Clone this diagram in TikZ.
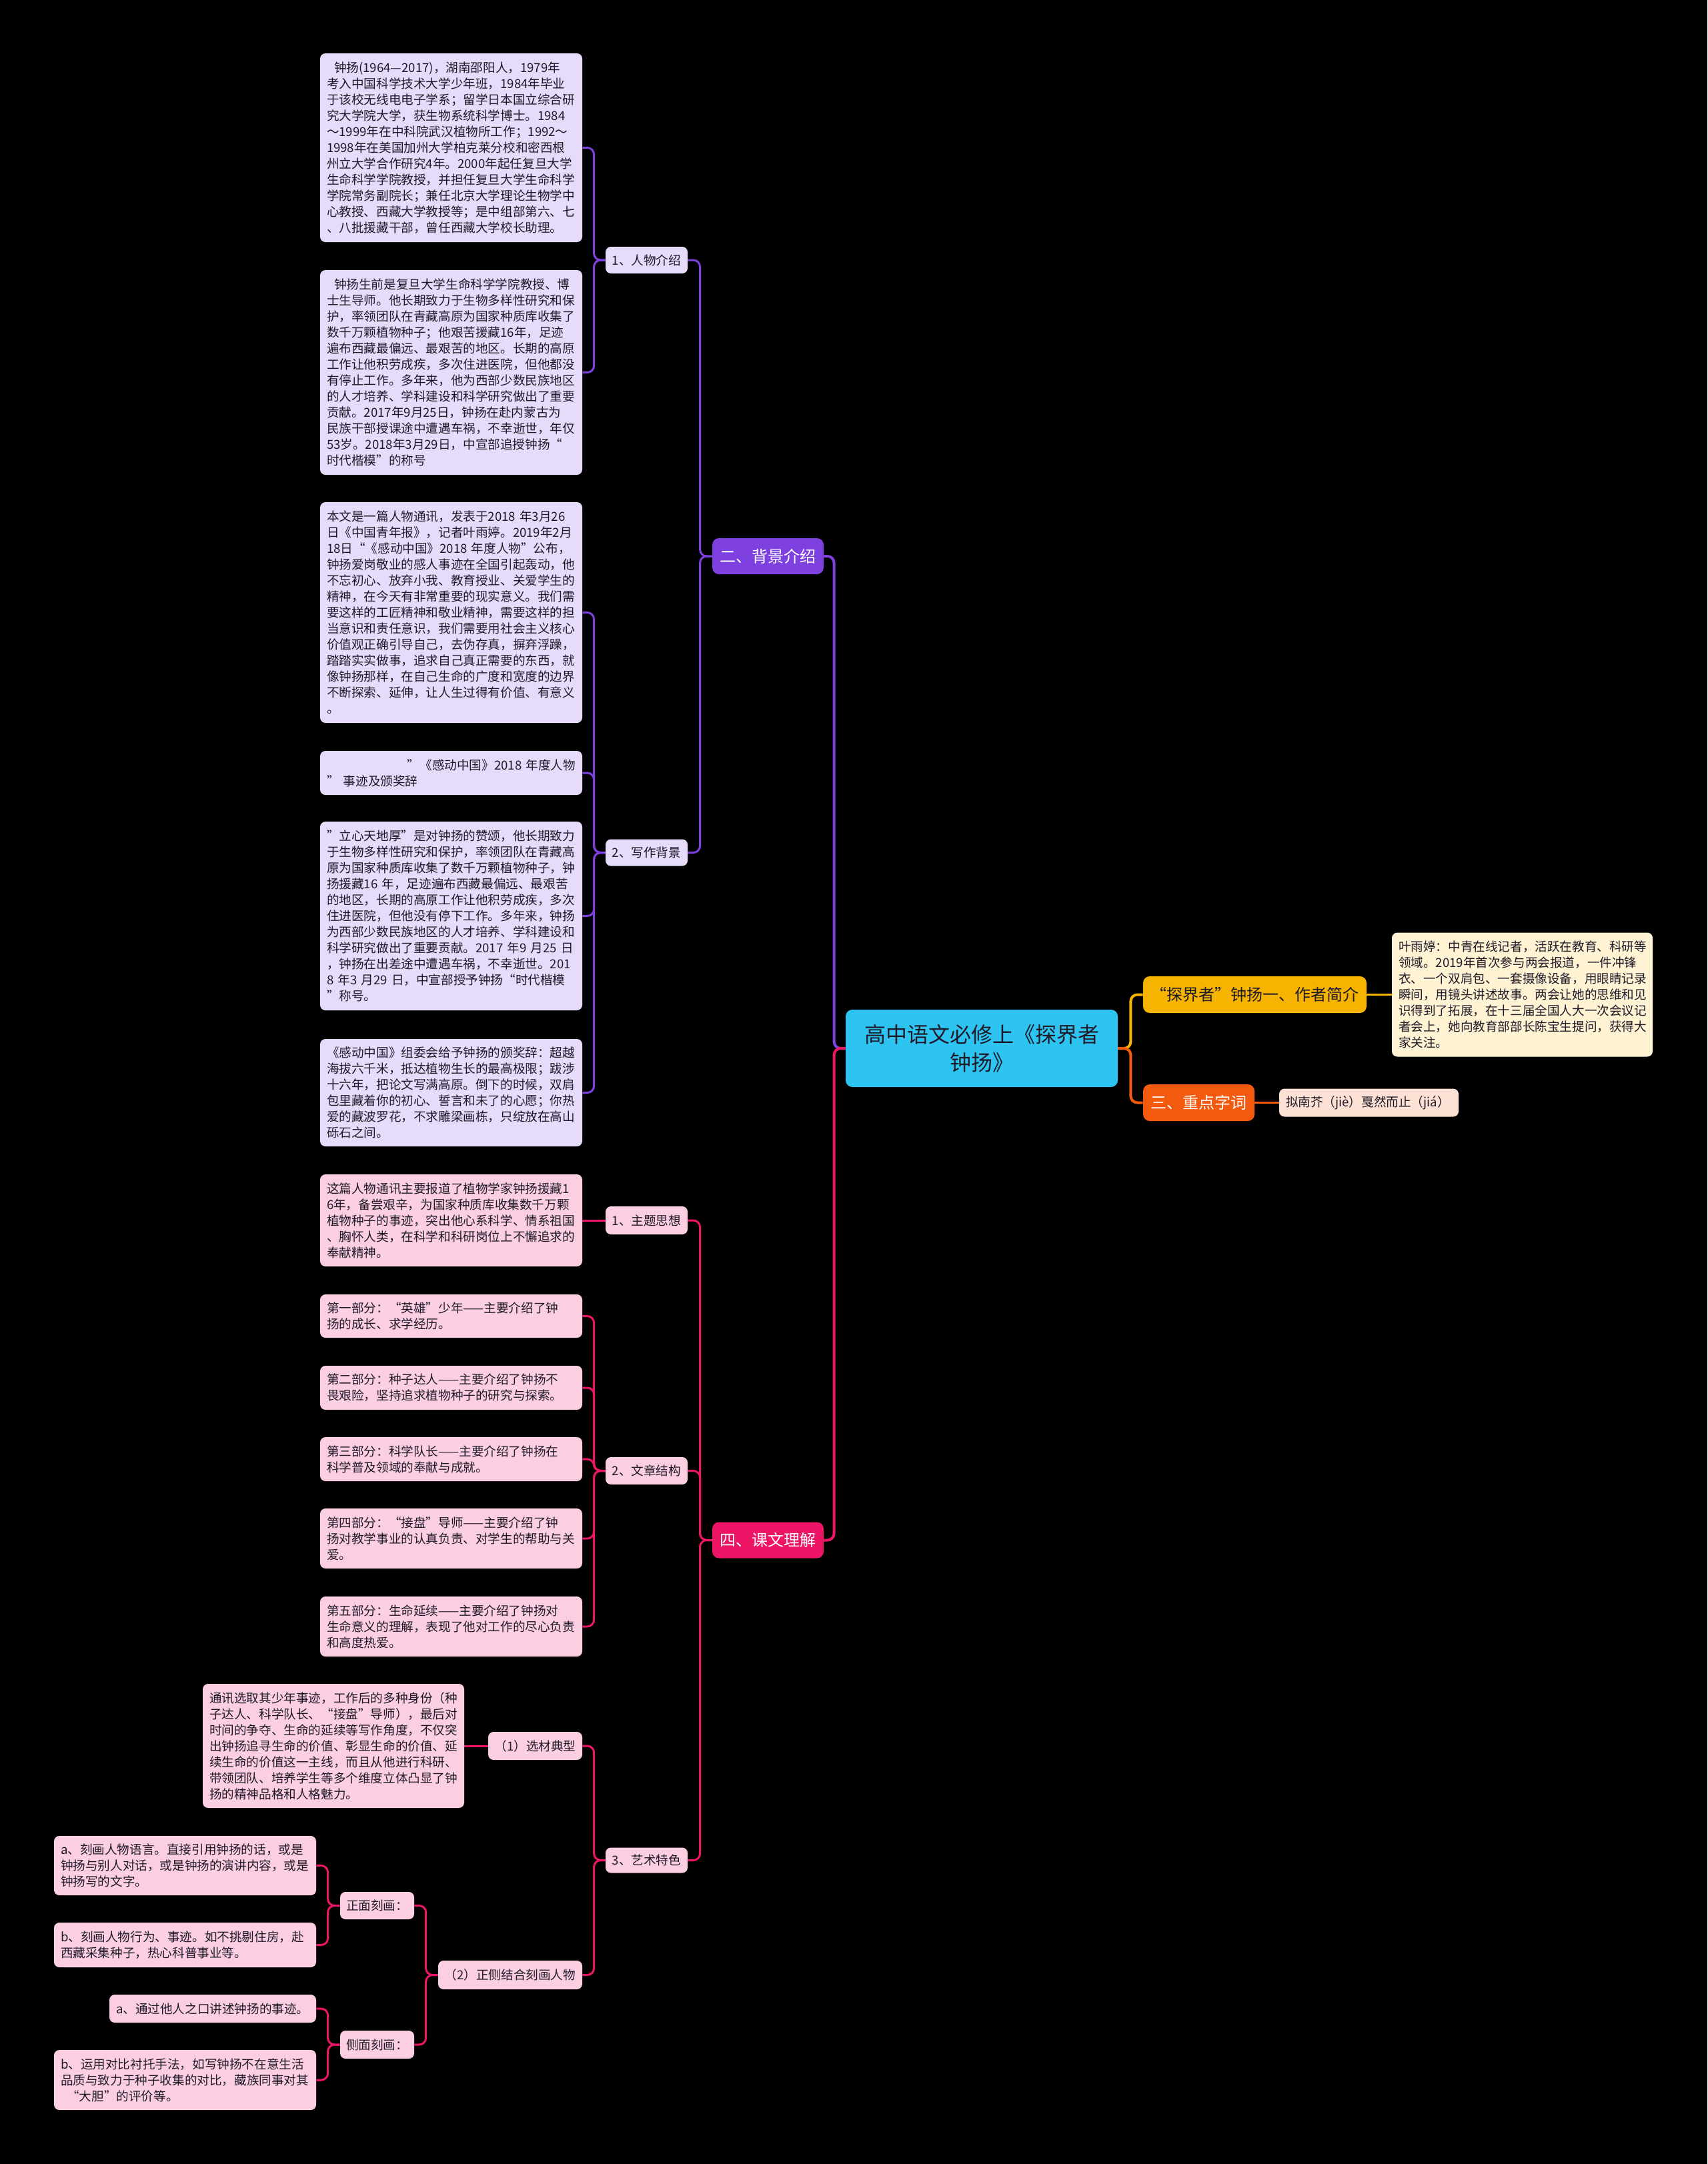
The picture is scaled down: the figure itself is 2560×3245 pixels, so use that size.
\documentclass[tikz,border=0pt]{standalone}
\usepackage{fontspec}
\setmainfont{Noto Sans CJK SC}
\usepackage{tikz}
\usetikzlibrary{backgrounds}
\usepackage{xcolor}
\definecolor{purp}{HTML}{7F40E0}
\definecolor{rose}{HTML}{EE1567}
\definecolor{sky}{HTML}{2EC4F2}
\definecolor{gold}{HTML}{F6B400}
\definecolor{flame}{HTML}{F45A0D}
\definecolor{lav}{HTML}{E6DBFA}
\definecolor{blush}{HTML}{FCCEE2}
\definecolor{cream}{HTML}{FFF3D3}
\definecolor{peach}{HTML}{FCE1D4}
\definecolor{ink}{HTML}{1E1A28}

\begin{document}
\begin{tikzpicture}[x=0.5pt,y=-0.5pt,line cap=round,font=\fontsize{9.3}{12}\selectfont,
  tb/.style 2 args={rounded corners=4pt,inner xsep=5pt,inner ysep=0pt,align=left,text=ink,text width={(#1-20)*0.5pt},minimum height={#2*0.5pt}},
  lb/.style 2 args={rounded corners=4pt,inner sep=0pt,align=center,text=ink,minimum width={#1*0.5pt},minimum height={#2*0.5pt}},
  br/.style={rounded corners=5pt,text=white,font=\fontsize{12}{14}\selectfont},
  link/.style={line width=1.5pt,rounded corners=5pt}]
\useasboundingbox (0,0) rectangle (2560,3245);

\node[lb={408}{116},fill=sky,rounded corners=5pt,font=\fontsize{16}{21}\selectfont] (root) at (1472,1572) {高中语文必修上《探界者\\钟扬》};

\node[lb={167}{54},br,fill=purp] (bg) at (1151.5,834) {二、背景介绍};
\node[lb={167}{54},br,fill=rose] (kw) at (1151.5,2309.5) {四、课文理解};
\node[lb={335}{55},br,fill=gold,text=ink] (author) at (1881.5,1491.5) {“探界者”钟扬一、作者简介};
\node[lb={167}{55},br,fill=flame] (words) at (1797.5,1653.5) {三、重点字词};

\node[tb={391}{186},fill=cream] (pH1) at (2282.5,1491.5) {叶雨婷：中青在线记者，活跃在教育、科研等\\领域。2019年首次参与两会报道，一件冲锋\\衣、一个双肩包、一套摄像设备，用眼睛记录\\瞬间，用镜头讲述故事。两会让她的思维和见\\识得到了拓展，在十三届全国人大一次会议记\\者会上，她向教育部部长陈宝生提问，获得大\\家关注。};
\node[tb={269}{42},fill=peach] (pH2) at (2052.5,1653.5) {拟南芥（jiè）戛然而止（jiá）};

\node[lb={123}{40},fill=lav] (intro) at (969.5,390) {1、人物介绍};
\node[lb={123}{40},fill=lav] (writ) at (969.5,1278.5) {2、写作背景};

\node[tb={393}{283},fill=lav] (pA1) at (676.5,221.5) {\hspace*{0.6em}钟扬(1964—2017)，湖南邵阳人，1979年\\考入中国科学技术大学少年班，1984年毕业\\于该校无线电电子学系；留学日本国立综合研\\究大学院大学，获生物系统科学博士。1984\\～1999年在中科院武汉植物所工作；1992～\\1998年在美国加州大学柏克莱分校和密西根\\州立大学合作研究4年。2000年起任复旦大学\\生命科学学院教授，并担任复旦大学生命科学\\学院常务副院长；兼任北京大学理论生物学中\\心教授、西藏大学教授等；是中组部第六、七\\、八批援藏干部，曾任西藏大学校长助理。};
\node[tb={393}{307},fill=lav] (pA2) at (676.5,558.5) {\hspace*{0.6em}钟扬生前是复旦大学生命科学学院教授、博\\士生导师。他长期致力于生物多样性研究和保\\护，率领团队在青藏高原为国家种质库收集了\\数千万颗植物种子；他艰苦援藏16年，足迹\\遍布西藏最偏远、最艰苦的地区。长期的高原\\工作让他积劳成疾，多次住进医院，但他都没\\有停止工作。多年来，他为西部少数民族地区\\的人才培养、学科建设和科学研究做出了重要\\贡献。2017年9月25日，钟扬在赴内蒙古为\\民族干部授课途中遭遇车祸，不幸逝世，年仅\\53岁。2018年3月29日，中宣部追授钟扬“\\时代楷模”的称号};

\node[tb={393}{331},fill=lav] (pB1) at (676.5,918.5) {本文是一篇人物通讯，发表于2018~年3月26\\日《中国青年报》，记者叶雨婷。2019年2月\\18日“《感动中国》2018~年度人物”公布，\\钟扬爱岗敬业的感人事迹在全国引起轰动，他\\不忘初心、放弃小我、教育授业、关爱学生的\\精神，在今天有非常重要的现实意义。我们需\\要这样的工匠精神和敬业精神，需要这样的担\\当意识和责任意识，我们需要用社会主义核心\\价值观正确引导自己，去伪存真，摒弃浮躁，\\踏踏实实做事，追求自己真正需要的东西，就\\像钟扬那样，在自己生命的广度和宽度的边界\\不断探索、延伸，让人生过得有价值、有意义\\。};
\node[tb={393}{66},fill=lav] (pB2) at (676.5,1159) {\hspace*{6.5em}"《感动中国》2018~年度人物\\"~事迹及颁奖辞};
\node[tb={393}{283},fill=lav] (pB3) at (676.5,1373.5) {"立心天地厚”是对钟扬的赞颂，他长期致力\\于生物多样性研究和保护，率领团队在青藏高\\原为国家种质库收集了数千万颗植物种子，钟\\扬援藏16~年，足迹遍布西藏最偏远、最艰苦\\的地区，长期的高原工作让他积劳成疾，多次\\住进医院，但他没有停下工作。多年来，钟扬\\为西部少数民族地区的人才培养、学科建设和\\科学研究做出了重要贡献。2017~年9~月25~日\\，钟扬在出差途中遭遇车祸，不幸逝世。201\\8~年3~月29~日，中宣部授予钟扬“时代楷模\\”称号。};
\node[tb={393}{161},fill=lav] (pB4) at (676.5,1638.5) {《感动中国》组委会给予钟扬的颁奖辞：超越\\海拔六千米，抵达植物生长的最高极限；跋涉\\十六年，把论文写满高原。倒下的时候，双肩\\包里藏着你的初心、誓言和未了的心愿；你热\\爱的藏波罗花，不求雕梁画栋，只绽放在高山\\砾石之间。};

\node[lb={123}{42},fill=blush] (theme) at (969.5,1830) {1、主题思想};
\node[lb={123}{41},fill=blush] (struct) at (969.5,2205.5) {2、文章结构};
\node[lb={123}{38},fill=blush] (art) at (969.5,2789.5) {3、艺术特色};

\node[tb={393}{138},fill=blush] (pC1) at (676.5,1830) {这篇人物通讯主要报道了植物学家钟扬援藏1\\6年，备尝艰辛，为国家种质库收集数千万颗\\植物种子的事迹，突出他心系科学、情系祖国\\、胸怀人类，在科学和科研岗位上不懈追求的\\奉献精神。};

\node[tb={393}{65},fill=blush] (pD1) at (676.5,1973.5) {第一部分：“英雄”少年——主要介绍了钟\\扬的成长、求学经历。};
\node[tb={393}{66},fill=blush] (pD2) at (676.5,2081) {第二部分：种子达人——主要介绍了钟扬不\\畏艰险，坚持追求植物种子的研究与探索。};
\node[tb={393}{66},fill=blush] (pD3) at (676.5,2188) {第三部分：科学队长——主要介绍了钟扬在\\科学普及领域的奉献与成就。};
\node[tb={393}{90},fill=blush] (pD4) at (676.5,2307) {第四部分：“接盘”导师——主要介绍了钟\\扬对教学事业的认真负责、对学生的帮助与关\\爱。};
\node[tb={393}{90},fill=blush] (pD5) at (676.5,2439) {第五部分：生命延续——主要介绍了钟扬对\\生命意义的理解，表现了他对工作的尽心负责\\和高度热爱。};

\node[lb={141}{42},fill=blush] (sel) at (802.5,2618) {（1）选材典型};
\node[lb={216}{43},fill=blush] (side) at (765,2961.5) {（2）正侧结合刻画人物};
\node[tb={392}{186},fill=blush] (pE1) at (500,2618) {通讯选取其少年事迹，工作后的多种身份（种\\子达人、科学队长、“接盘”导师），最后对\\时间的争夺、生命的延续等写作角度，不仅突\\出钟扬追寻生命的价值、彰显生命的价值、延\\续生命的价值这一主线，而且从他进行科研、\\带领团队、培养学生等多个维度立体凸显了钟\\扬的精神品格和人格魅力。};

\node[lb={111}{41},fill=blush] (front) at (565.5,2857.5) {正面刻画：};
\node[lb={111}{42},fill=blush] (indir) at (565.5,3066) {侧面刻画：};
\node[tb={393}{89},fill=blush] (pF1) at (277.5,2797.5) {a、刻画人物语言。直接引用钟扬的话，或是\\钟扬与别人对话，或是钟扬的演讲内容，或是\\钟扬写的文字。};
\node[tb={393}{67},fill=blush] (pF2) at (277.5,2916.5) {b、刻画人物行为、事迹。如不挑剔住房，赴\\西藏采集种子，热心科普事业等。};
\node[tb={310}{42},fill=blush] (pG1) at (319,3012) {a、通过他人之口讲述钟扬的事迹。};
\node[tb={393}{90},fill=blush] (pG2) at (277.5,3119) {b、运用对比衬托手法，如写钟扬不在意生活\\品质与致力于种子收集的对比，藏族同事对其\\\hspace*{0.5em}“大胆”的评价等。};

\begin{scope}[on background layer]
\fill[black] (0,0) rectangle (2560,3245);
% main branches
\draw[link,purp,line width=2pt] (root.west) -- ++(-17,0) |- (bg.east);
\draw[link,rose,line width=2pt] (root.west) -- ++(-17,0) |- (kw.east);
\draw[link,gold,line width=2pt] (root.east) -- ++(19,0) |- (author.west);
\draw[link,flame,line width=2pt] (root.east) -- ++(19,0) |- (words.west);
\draw[link,gold] (author.east) -- (pH1.west);
\draw[link,flame] (words.east) -- (pH2.west);
% background part
\draw[link,purp] (bg.west) -- ++(-18,0) |- (intro.east);
\draw[link,purp] (bg.west) -- ++(-18,0) |- (writ.east);
\draw[link,purp] (intro.west) -- ++(-17,0) |- (pA1.east);
\draw[link,purp] (intro.west) -- ++(-17,0) |- (pA2.east);
\draw[link,purp] (writ.west) -- ++(-17,0) |- (pB1.east);
\draw[link,purp] (writ.west) -- ++(-17,0) |- (pB2.east);
\draw[link,purp] (writ.west) -- ++(-17,0) |- (pB3.east);
\draw[link,purp] (writ.west) -- ++(-17,0) |- (pB4.east);
% text part
\draw[link,rose] (kw.west) -- ++(-18,0) |- (theme.east);
\draw[link,rose] (kw.west) -- ++(-18,0) |- (struct.east);
\draw[link,rose] (kw.west) -- ++(-18,0) |- (art.east);
\draw[link,rose] (theme.west) -- (pC1.east);
\draw[link,rose] (struct.west) -- ++(-17,0) |- (pD1.east);
\draw[link,rose] (struct.west) -- ++(-17,0) |- (pD2.east);
\draw[link,rose] (struct.west) -- ++(-17,0) |- (pD3.east);
\draw[link,rose] (struct.west) -- ++(-17,0) |- (pD4.east);
\draw[link,rose] (struct.west) -- ++(-17,0) |- (pD5.east);
\draw[link,rose] (art.west) -- ++(-17,0) |- (sel.east);
\draw[link,rose] (art.west) -- ++(-17,0) |- (side.east);
\draw[link,rose] (sel.west) -- (pE1.east);
\draw[link,rose] (side.west) -- ++(-18,0) |- (front.east);
\draw[link,rose] (side.west) -- ++(-18,0) |- (indir.east);
\draw[link,rose] (front.west) -- ++(-18,0) |- (pF1.east);
\draw[link,rose] (front.west) -- ++(-18,0) |- (pF2.east);
\draw[link,rose] (indir.west) -- ++(-18,0) |- (pG1.east);
\draw[link,rose] (indir.west) -- ++(-18,0) |- (pG2.east);
\end{scope}
\end{tikzpicture}
\end{document}
